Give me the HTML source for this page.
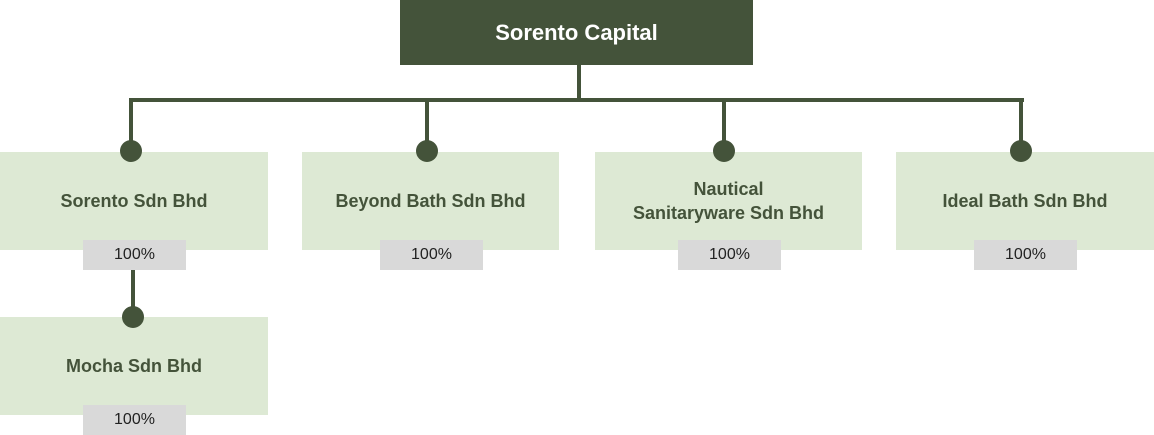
<!DOCTYPE html>
<html><head><style>
body{margin:0;width:1154px;height:435px;background:#fff;position:relative;overflow:hidden;font-family:"Liberation Sans",Arial,sans-serif}
.b{position:absolute;background:#dde9d4;color:#44533a;font-weight:bold;font-size:18px;display:flex;align-items:center;justify-content:center;text-align:center;line-height:24px}
.p{position:absolute;background:#d9d9d9;color:#222;font-size:16px;width:103px;height:30px;display:flex;align-items:center;justify-content:center}
.l{position:absolute;background:#44533a}
.d{position:absolute;width:22px;height:22px;border-radius:50%;background:#44533a}
</style></head><body>
<div class="b" style="left:400px;top:0;width:353px;height:65px;background:#44533a;color:#fff;font-size:22px">Sorento Capital</div>
<div class="l" style="left:577px;top:65px;width:4px;height:37px"></div>
<div class="l" style="left:129px;top:98px;width:895px;height:4px"></div>
<div class="l" style="left:129px;top:98px;width:4px;height:52px"></div>
<div class="l" style="left:425px;top:98px;width:4px;height:52px"></div>
<div class="l" style="left:722px;top:98px;width:4px;height:52px"></div>
<div class="l" style="left:1019px;top:98px;width:4px;height:52px"></div>

<div class="b" style="left:0;top:152px;width:268px;height:98px">Sorento Sdn Bhd</div>
<div class="b" style="left:302px;top:152px;width:257px;height:98px">Beyond Bath Sdn Bhd</div>
<div class="b" style="left:595px;top:152px;width:267px;height:98px">Nautical<br>Sanitaryware Sdn Bhd</div>
<div class="b" style="left:896px;top:152px;width:258px;height:98px">Ideal Bath Sdn Bhd</div>
<div class="d" style="left:120px;top:140px"></div>
<div class="d" style="left:416px;top:140px"></div>
<div class="d" style="left:713px;top:140px"></div>
<div class="d" style="left:1010px;top:140px"></div>
<div class="p" style="left:83px;top:240px">100%</div>
<div class="p" style="left:380px;top:240px">100%</div>
<div class="p" style="left:678px;top:240px">100%</div>
<div class="p" style="left:974px;top:240px">100%</div>

<div class="l" style="left:131px;top:270px;width:4px;height:47px"></div>
<div class="b" style="left:0;top:317px;width:268px;height:98px">Mocha Sdn Bhd</div>
<div class="d" style="left:122px;top:306px"></div>
<div class="p" style="left:83px;top:405px">100%</div>
</body></html>
